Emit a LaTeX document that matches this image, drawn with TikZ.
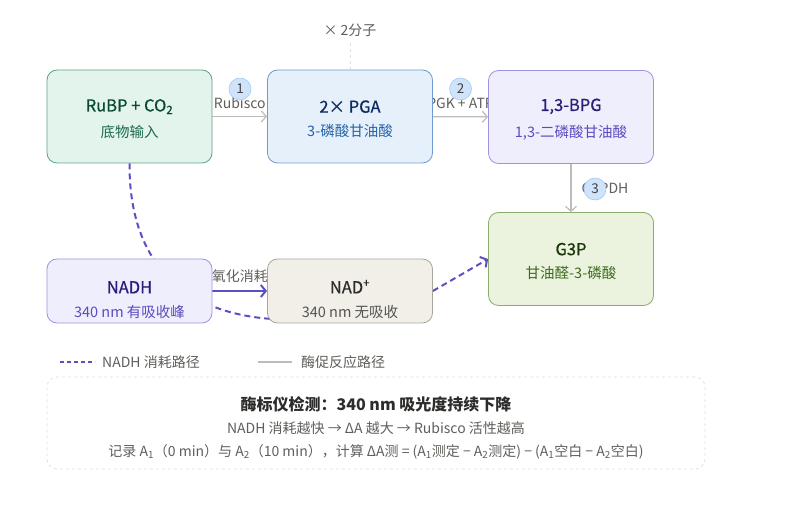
\documentclass[tikz,border=0pt]{standalone}
\usepackage{fontspec}
\setmainfont{Noto Sans CJK SC}
\newfontfamily\medfont[FakeBold=0.7]{Noto Sans CJK SC}
\usetikzlibrary{arrows.meta,backgrounds,positioning}

\definecolor{nadhpurple}{HTML}{5A4FC4}
\definecolor{enzgray}{HTML}{BDBCB6}
\definecolor{labelgray}{HTML}{5F5E5A}
\definecolor{numfill}{HTML}{CFE3FB}
\definecolor{numline}{HTML}{A6C8F2}
\definecolor{rubpfill}{HTML}{E2F4EC}
\definecolor{rubpline}{HTML}{5DA385}
\definecolor{rubptext}{HTML}{0A4A35}
\definecolor{rubpsub}{HTML}{1D6A4E}
\definecolor{pgafill}{HTML}{E6F0FB}
\definecolor{pgaline}{HTML}{6C9BD2}
\definecolor{pgatext}{HTML}{0E2C62}
\definecolor{pgasub}{HTML}{2563A8}
\definecolor{bpgfill}{HTML}{EFEEFD}
\definecolor{bpgline}{HTML}{9E93E2}
\definecolor{bpgtext}{HTML}{291F78}
\definecolor{bpgsub}{HTML}{5A4CC0}
\definecolor{gfill}{HTML}{EBF3DF}
\definecolor{gline}{HTML}{8CAB6C}
\definecolor{gtext}{HTML}{1C380C}
\definecolor{gsub}{HTML}{3D6B1B}
\definecolor{nadfill}{HTML}{F1EFE8}
\definecolor{nadline}{HTML}{A9A69D}
\definecolor{nadtext}{HTML}{2C2C2A}
\definecolor{nadsub}{HTML}{55544F}
\definecolor{panelline}{HTML}{E2E1DC}

\begin{document}
\begin{tikzpicture}[x=1pt,y=-1pt,
  box/.style={rounded corners=10pt, minimum width=165pt, minimum height=93pt,
    line width=0.8pt, align=center, inner sep=2pt},
  smallbox/.style={box, minimum height=64pt},
  enz/.style={enzgray, line width=1.2pt, -{Straight Barb[length=5pt,width=11pt]}},
  nadhline/.style={nadhpurple, line width=2pt, dash pattern=on 6pt off 4pt},
  nadharrow/.style={-{Straight Barb[length=5pt,width=12pt,line width=2pt]}},
  stepnum/.style={circle, fill=numfill, draw=numline, line width=0.6pt,
    minimum size=22pt, inner sep=0pt, font=\fontsize{13.5}{15}\selectfont, text=labelgray!70!black},
  enzlabel/.style={font=\fontsize{14}{16}\selectfont, text=labelgray, inner sep=1pt}
]
\useasboundingbox (0,0) rectangle (800,518);

% substrates and products
\node[box, fill=rubpfill, draw=rubpline] (rubp) at (129.5,116.5)
  {\rule{0pt}{17pt}\fontsize{16.5}{19}\medfont\color{rubptext}RuBP + CO\textsubscript{2}\\[10pt]
   \fontsize{14.5}{17}\selectfont\color{rubpsub}底物输入};
\node[box, fill=pgafill, draw=pgaline] (pga) at (350,116.5)
  {\rule{0pt}{17pt}\fontsize{16.5}{19}\medfont\color{pgatext}2× PGA\\[10pt]
   \fontsize{14.5}{17}\selectfont\color{pgasub}3-磷酸甘油酸};
\node[box, fill=bpgfill, draw=bpgline] (bpg) at (571,117)
  {\rule{0pt}{17pt}\fontsize{16.5}{19}\medfont\color{bpgtext}1,3-BPG\\[10pt]
   \fontsize{14.5}{17}\selectfont\color{bpgsub}1,3-二磷酸甘油酸};
\node[box, fill=gfill, draw=gline] (g3p) at (571,259)
  {\rule{0pt}{17pt}\fontsize{16.5}{19}\medfont\color{gtext}G3P\\[10pt]
   \fontsize{14.5}{17}\selectfont\color{gsub}甘油醛-3-磷酸};
\node[smallbox, fill=bpgfill, draw=bpgline] (nadh) at (129.5,291)
  {\rule{0pt}{30pt}\fontsize{16.5}{19}\medfont\color{bpgtext}NADH\\[11pt]
   \fontsize{14.5}{17}\selectfont\color{bpgsub}340 nm 有吸收峰};
\node[smallbox, fill=nadfill, draw=nadline] (nad) at (350,291)
  {\rule{0pt}{30pt}\fontsize{16.5}{19}\medfont\color{nadtext}NAD\textsuperscript{+}\\[11pt]
   \fontsize{14.5}{17}\selectfont\color{nadsub}340 nm 无吸收};

\node[enzlabel] (twice) at (350,30) {× 2分子};

% connectors under the boxes
\begin{scope}[on background layer]
  \draw[panelline, dashed, line width=0.8pt, shorten <=5pt] (twice.south) -- (pga.north);
  \draw[enz] (rubp) -- node[enzlabel, above=6pt] (rubisco) {Rubisco} (pga);
  \draw[enz] (pga) -- node[enzlabel, above=6pt] (pgk) {PGK + ATP} (bpg);
  \draw[enz] (bpg) -- node[enzlabel, right=9pt] (gapdh) {GAPDH} (g3p);
  \draw[nadhline] (rubp.south) .. controls (129,260) and (180,315) .. ([xshift=12pt,yshift=4pt]nad.south west);
  \draw[nadhline, nadharrow] (nad.east) -- (g3p.west);
  \draw[nadhpurple, line width=2pt, nadharrow] (nadh) -- node[enzlabel, above=6pt] (oxid) {氧化消耗} (nad);
\end{scope}

% step numbers
\node[stepnum] (n1) at (240,89) {1};
\node[stepnum] (n2) at (460.5,89) {2};
\node[stepnum] (n3) at (595,189) {3};

% legend
\coordinate (l1a) at (60,362);
\coordinate (l1b) at (95,362);
\draw[nadhpurple, line width=2pt, dash pattern=on 4pt off 3pt] (l1a) -- (l1b);
\node[enzlabel, anchor=west] (leg1) at (101,362) {NADH 消耗路径};
\coordinate (l2a) at (258,362);
\coordinate (l2b) at (292,362);
\draw[enzgray, line width=1.2pt] (l2a) -- (l2b);
\node[enzlabel, anchor=west] (leg2) at (300,362) {酶促反应路径};

% measurement panel
\node[draw=panelline, dashed, line width=0.8pt, rounded corners=10pt,
  minimum width=658pt, minimum height=92pt] (panel) at (376,423) {};
\node[font=\fontsize{16}{19}\selectfont\bfseries, text=nadtext] (ptitle) at (376,404)
  {酶标仪检测：340 nm 吸光度持续下降};
\node[font=\fontsize{14}{16}\selectfont, text=labelgray] (pline1) at (376,428)
  {NADH 消耗越快 → ΔA 越大 → Rubisco 活性越高};
\node[font=\fontsize{14}{16}\selectfont, text=labelgray] (pline2) at (376,452)
  {记录 A\textsubscript{1}（0 min）与 A\textsubscript{2}（10 min），计算 ΔA测 = (A\textsubscript{1}测定 − A\textsubscript{2}测定) − (A\textsubscript{1}空白 − A\textsubscript{2}空白)};
\end{tikzpicture}
\end{document}
